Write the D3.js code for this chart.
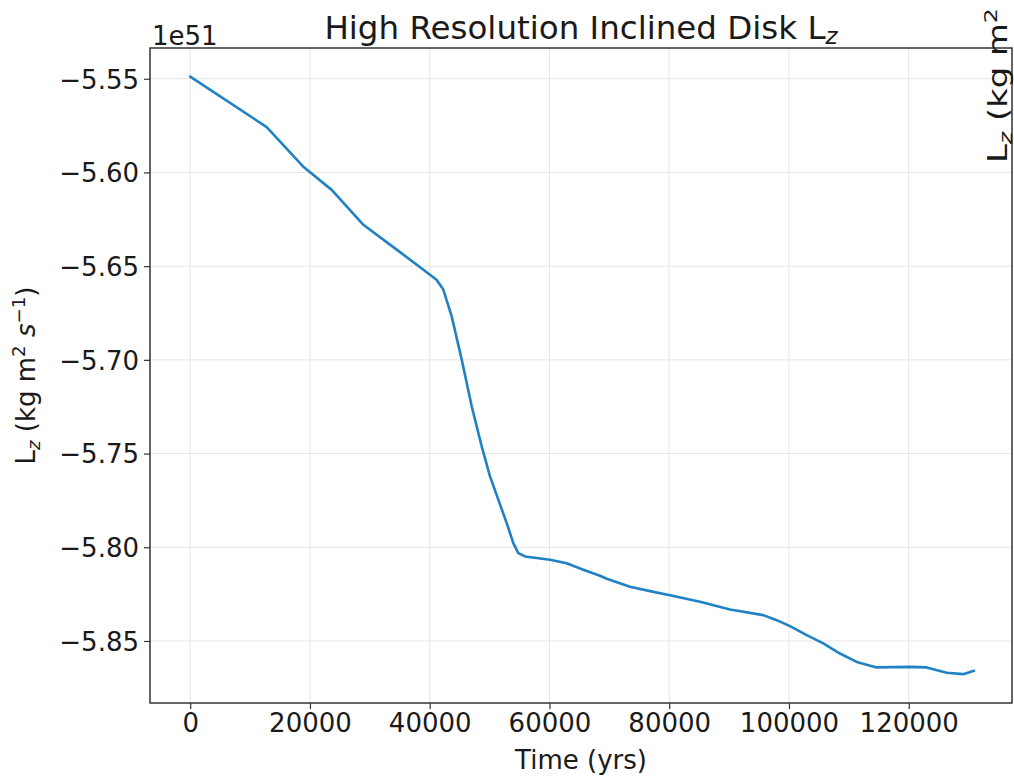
<!DOCTYPE html>
<html>
<head>
<meta charset="utf-8">
<script src="https://cdn.jsdelivr.net/npm/d3@7"></script>
<style>
  html, body { margin: 0; padding: 0; background: #fff; }
  svg { display: block; font-family: "DejaVu Sans", sans-serif; }
</style>
</head>
<body>
<svg id="chart" width="1014" height="782"></svg>
<script>
// Time in years
const times = [0, 12777, 18840, 23633, 28810, 35038, 40600, 41169, 42271, 43674, 45344, 47015, 48685, 50071, 52860, 53962, 54797, 55916, 60092, 62881, 65653, 68434, 69562, 73453, 76794, 80134, 85144, 90154, 95716, 97954, 100175, 102964, 105737, 108518, 111307, 114647, 120209, 122998, 126338, 129110, 130898];
// Lz in units of 1e51 kg m^2 s^-1
const lzValues = [-5.5489, -5.5758, -5.5968, -5.6093, -5.6276, -5.6425, -5.6559, -5.6574, -5.6625, -5.6768, -5.6999, -5.7248, -5.7462, -5.7622, -5.7871, -5.7978, -5.8031, -5.8049, -5.8067, -5.8085, -5.8120, -5.8152, -5.8168, -5.8211, -5.8234, -5.8256, -5.8291, -5.8332, -5.8362, -5.8389, -5.8421, -5.8469, -5.8513, -5.8567, -5.8612, -5.8641, -5.8638, -5.8641, -5.8670, -5.8677, -5.8659];
const xTicks = [0, 20000, 40000, 60000, 80000, 100000, 120000];
const yTicks = [-5.55, -5.60, -5.65, -5.70, -5.75, -5.80, -5.85];

const svg = d3.select("#chart");
const pLeft = 150, pRight = 1012, pTop = 48, pBottom = 703;

const x = d3.scaleLinear().domain([-6714, 137250]).range([pLeft, pRight]);
const y = d3.scaleLinear().domain([-5.8831, -5.5336]).range([pBottom, pTop]);

// grid
const grid = svg.append("g");
grid.selectAll("line.gx").data(xTicks).join("line")
  .attr("x1", d => x(d)).attr("x2", d => x(d))
  .attr("y1", pTop).attr("y2", pBottom)
  .attr("stroke", "#e6e6e6").attr("stroke-width", 1);
grid.selectAll("line.gy").data(yTicks).join("line")
  .attr("y1", d => y(d)).attr("y2", d => y(d))
  .attr("x1", pLeft).attr("x2", pRight)
  .attr("stroke", "#e6e6e6").attr("stroke-width", 1);

// axes
const fmtMinus = d => d3.format(".2f")(d).replace("-", "\u2212");
const xAxis = svg.append("g").attr("transform", `translate(0,${pBottom})`)
  .call(d3.axisBottom(x).tickValues(xTicks).tickFormat(d3.format("d")).tickSize(6).tickSizeOuter(0));
const yAxis = svg.append("g").attr("transform", `translate(${pLeft},0)`)
  .call(d3.axisLeft(y).tickValues(yTicks).tickFormat(fmtMinus).tickSize(6).tickSizeOuter(0));
[xAxis, yAxis].forEach(a => {
  a.select(".domain").remove();
  a.selectAll(".tick line").attr("stroke", "#333").attr("stroke-width", 1.2);
  a.selectAll(".tick text").attr("fill", "#1a1a1a")
    .style("font-family", "'DejaVu Sans', sans-serif").style("font-size", "26px");
});
xAxis.selectAll(".tick text").attr("y", 11).attr("dy", "0.71em");
yAxis.selectAll(".tick text").attr("x", -11).attr("dy", "0.36em");

// line
const line = d3.line().x((d, i) => x(times[i])).y(d => y(d)).curve(d3.curveLinear);
svg.append("path").datum(lzValues)
  .attr("d", line)
  .attr("fill", "none").attr("stroke", "#1f82c4").attr("stroke-width", 2.6)
  .attr("stroke-linejoin", "round").attr("stroke-linecap", "round");

// frame
svg.append("rect").attr("x", pLeft).attr("y", pTop)
  .attr("width", pRight - pLeft).attr("height", pBottom - pTop)
  .attr("fill", "none").attr("stroke", "#333").attr("stroke-width", 1.5);

// title
const title = svg.append("text").attr("x", (pLeft + pRight) / 2).attr("y", 39)
  .attr("text-anchor", "middle").attr("font-size", 32.5).attr("fill", "#1a1a1a");
title.append("tspan").text("High Resolution Inclined Disk L");
title.append("tspan").text("z").attr("font-style", "italic").attr("font-size", 23).attr("dy", 5);

// offset text
svg.append("text").attr("x", 152).attr("y", 45).attr("font-size", 26).attr("fill", "#1a1a1a").text("1e51");

// x label
svg.append("text").attr("x", (pLeft + pRight) / 2).attr("y", 769)
  .attr("text-anchor", "middle").attr("font-size", 26).attr("fill", "#1a1a1a").text("Time (yrs)");

// y label builder
function lzLabel(g, size) {
  const sub = size * 0.7;
  g.append("tspan").text("L");
  g.append("tspan").text("z").attr("font-style", "italic").attr("font-size", sub).attr("dy", size * 0.2);
  g.append("tspan").text(" (kg m").attr("dy", -size * 0.2);
  g.append("tspan").text("2").attr("font-size", sub).attr("dy", -size * 0.38);
  g.append("tspan").text(" ").attr("dy", size * 0.38);
  g.append("tspan").text("s").attr("font-style", "italic");
  g.append("tspan").text("\u22121").attr("font-size", sub).attr("dy", -size * 0.38);
  g.append("tspan").text(")").attr("dy", size * 0.38);
}
const yl = svg.append("text").attr("transform", `translate(35,${(pTop + pBottom) / 2}) rotate(-90)`)
  .attr("text-anchor", "middle").attr("font-size", 26).attr("fill", "#1a1a1a");
lzLabel(yl, 26);

// clipped right-side label (stretched along its reading direction)
const yr = svg.append("text").attr("transform", `translate(1007,163) scale(1,1.3) rotate(-90)`)
  .attr("text-anchor", "start").attr("font-size", 26).attr("fill", "#1a1a1a");
lzLabel(yr, 26);
</script>
</body>
</html>
